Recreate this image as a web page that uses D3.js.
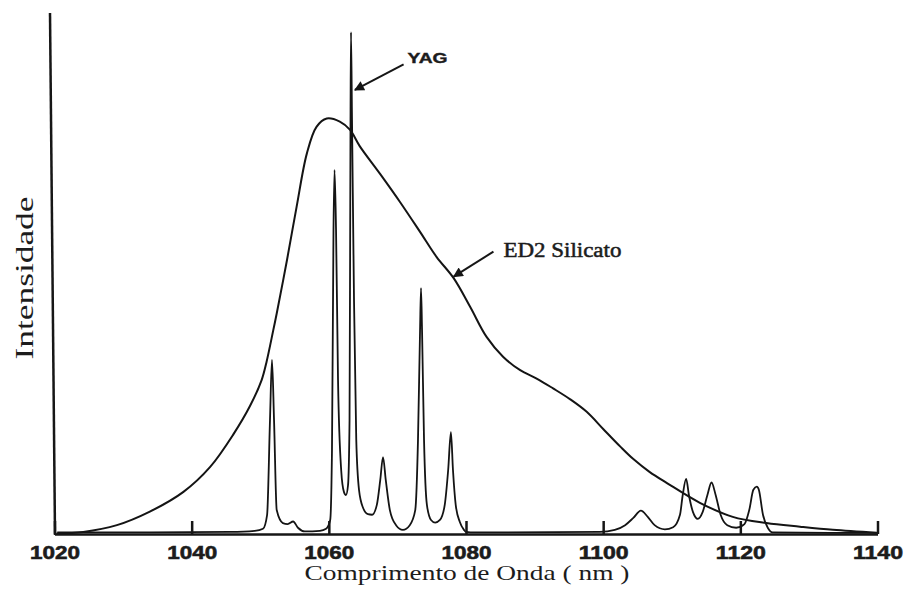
<!DOCTYPE html>
<html>
	<head>
		<title>Intensidade x Comprimento de Onda</title>

		<style>
			body
			{
				margin: 0;
				background: #ffffff;
			}

			svg
			{
				display: block;
			}

			.axisLine, .xAxis path, .xAxis line
			{
				stroke: #161616;
				stroke-width: 2.5px;
				fill: none;
			}

			.xAxis text
			{
				font-family: "Liberation Sans", Arial, sans-serif;
				font-weight: bold;
				font-size: 19px;
				fill: #1c1c1c;
				stroke: #1c1c1c;
				stroke-width: 0.6px;
			}

			.broadCurve, .narrowCurve
			{
				fill: none;
				stroke: #141414;
				stroke-width: 2px;
				stroke-linejoin: round;
			}

			.narrowCurve
			{
				stroke-width: 1.8px;
			}

			.axisTitle
			{
				font-family: "Liberation Serif", "Times New Roman", serif;
				fill: #1c1c1c;
			}

			.labelYag
			{
				font-family: "Liberation Sans", Arial, sans-serif;
				font-weight: bold;
				font-size: 14px;
				fill: #1c1c1c;
				stroke: #1c1c1c;
				stroke-width: 0.4px;
			}

			.labelEd2
			{
				font-family: "Liberation Serif", "Times New Roman", serif;
				font-size: 20px;
				fill: #1c1c1c;
				stroke: #1c1c1c;
				stroke-width: 0.5px;
			}

			.pointer
			{
				stroke: #161616;
				stroke-width: 2px;
			}
		</style>

		<script src="https://cdn.jsdelivr.net/npm/d3@7"></script>
	</head>

	<body>
		<svg width="904" height="592"></svg>

		<script>
			// x ticks (nm)
			var xTicks = [1020, 1040, 1060, 1080, 1100, 1120, 1140];

			// ED2 silicate glass - broad band (nm, relative intensity 0-100)
			var ed2Wave = [1020.3, 1024.2, 1029.1, 1033.9, 1038.8, 1042.7, 1046.1, 1048.5, 1050.2, 1050.9,
				1051.9, 1052.4, 1053.9, 1055.3, 1056.8, 1058.2, 1059.7, 1061.6, 1063.1, 1064.5,
				1067.5, 1070.4, 1073.3, 1075.7, 1078.2, 1080.6, 1083.0, 1085.4, 1087.9, 1090.3,
				1092.7, 1095.2, 1097.6, 1100.0, 1102.5, 1104.4, 1106.8, 1109.3, 1114.1, 1118.9,
				1123.8, 1128.7, 1133.5, 1139.9];
			var ed2Int = [0.1, 0.4, 1.7, 4.3, 8.1, 12.9, 19.2, 24.6, 29.6, 33.0,
				39.2, 42.4, 52.7, 62.9, 73.2, 78.3, 79.9, 79.3, 77.7, 74.6,
				69.2, 63.8, 58.1, 53.3, 49.2, 43.7, 37.9, 34.1, 31.5, 29.9,
				28.0, 25.9, 23.5, 20.2, 16.8, 14.4, 11.9, 9.8, 6.0, 3.3,
				2.1, 1.4, 0.8, 0.25];

			// YAG crystal - narrow lines (nm, relative intensity 0-100)
			var yagWave = [1020.4, 1033.9, 1045.6, 1049.2, 1050.4, 1051.0, 1051.42, 1051.71, 1052.01, 1052.4,
				1053.3, 1054.0, 1054.8, 1055.5, 1056.5, 1058.7, 1059.6, 1060.2, 1060.46, 1060.68,
				1060.83, 1061.05, 1061.34, 1061.8, 1062.2, 1062.5, 1062.8, 1063.02, 1063.16, 1063.23,
				1063.38, 1063.67, 1064.0, 1064.4, 1065.0, 1065.7, 1066.3, 1067.0, 1067.5, 1067.9,
				1068.3, 1068.9, 1069.8, 1070.8, 1071.8, 1072.6, 1073.0, 1073.3, 1073.44, 1073.59,
				1073.88, 1074.3, 1074.9, 1075.5, 1076.2, 1076.9, 1077.4, 1077.8, 1078.1, 1078.5,
				1079.1, 1079.7, 1080.0, 1081.3, 1099.5, 1101.7, 1103.2, 1104.4, 1105.5, 1106.5,
				1107.5, 1109.0, 1110.2, 1111.2, 1111.6, 1112.1, 1112.5, 1113.1, 1113.8, 1114.5,
				1115.2, 1115.8, 1116.4, 1117.1, 1118.1, 1119.4, 1120.6, 1121.3, 1121.9, 1122.4,
				1122.7, 1123.3, 1124.0, 1124.7, 1139.9];
			var yagInt = [0.3, 0.3, 0.4, 0.6, 1.0, 3.7, 21.9, 33.5, 21.9, 4.6,
				2.1, 1.9, 2.4, 1.2, 0.5, 0.6, 1.0, 2.7, 16.2, 58.5,
				70.0, 58.5, 29.6, 12.3, 8.1, 7.5, 9.4, 21.9, 79.6, 96.5,
				79.6, 45.0, 18.1, 8.5, 5.0, 3.8, 3.7, 5.6, 10.4, 14.8,
				10.4, 4.6, 1.7, 0.8, 1.7, 4.6, 18.1, 39.2, 47.3, 39.2,
				18.1, 5.6, 2.7, 2.2, 2.7, 5.6, 12.3, 19.6, 12.3, 5.6,
				2.3, 0.8, 0.4, 0.3, 0.4, 0.8, 1.7, 3.1, 4.5, 3.3,
				1.7, 0.9, 1.3, 3.7, 7.5, 10.6, 7.5, 4.2, 2.9, 4.2,
				7.5, 9.9, 7.5, 3.8, 1.7, 1.2, 1.9, 4.6, 8.5, 9.1,
				8.5, 3.7, 1.2, 0.3, 0.2];

			// annotation anchors (nm, intensity) and label texts
			var yagLabel = "YAG";
			var yagArrow = [[1070.9, 90.3], [1063.8, 85.4]];
			var ed2Label = "ED2 Silicato";
			var ed2Arrow = [[1084.0, 54.3], [1078.2, 49.5]];
			var xTitle = "Comprimento de Onda ( nm )";
			var yTitle = "Intensidade";

			var svg = d3.select("svg");

			var x = d3.scaleLinear()
				.domain([1020, 1140])
				.range([54.5, 877.5]);

			var y = d3.scaleLinear()
				.domain([0, 100])
				.range([534, 14]);

			var ed2Data = ed2Wave.map(function(d, i) { return [d, ed2Int[i]]; });
			var yagData = yagWave.map(function(d, i) { return [d, yagInt[i]]; });

			var broadLine = d3.line()
				.x(function(d) { return x(d[0]); })
				.y(function(d) { return y(d[1]); })
				.curve(d3.curveCatmullRom.alpha(0.5));

			var narrowLine = d3.line()
				.x(function(d) { return x(d[0]); })
				.y(function(d) { return y(d[1]); })
				.curve(d3.curveMonotoneX);

			svg.append("defs")
				.append("marker")
				.attr("id", "head")
				.attr("viewBox", "0 0 10 10")
				.attr("refX", 9)
				.attr("refY", 5)
				.attr("markerWidth", 7)
				.attr("markerHeight", 5)
				.attr("markerUnits", "strokeWidth")
				.attr("orient", "auto")
				.append("path")
				.attr("d", "M0,0 L10,5 L0,10 z")
				.attr("fill", "#161616");

			// curves
			svg.append("path")
				.datum(ed2Data)
				.attr("class", "broadCurve")
				.attr("d", broadLine);

			svg.append("path")
				.datum(yagData)
				.attr("class", "narrowCurve")
				.attr("d", narrowLine);

			// axes
			svg.append("line")
				.attr("class", "axisLine")
				.attr("x1", 50)
				.attr("y1", 13)
				.attr("x2", 55)
				.attr("y2", y(0) + 1);

			var xAxis = d3.axisBottom(x)
				.tickValues(xTicks)
				.tickFormat(d3.format("d"))
				.tickSizeInner(-13)
				.tickSizeOuter(0)
				.tickPadding(11.5);

			svg.append("g")
				.attr("class", "xAxis")
				.attr("transform", "translate(0," + y(0) + ")")
				.call(xAxis)
				.call(function(g)
				{
					g.selectAll("text")
						.attr("textLength", 50)
						.attr("lengthAdjust", "spacingAndGlyphs");
				});

			// titles
			svg.append("text")
				.attr("class", "axisTitle")
				.attr("x", 467)
				.attr("y", 580)
				.attr("text-anchor", "middle")
				.attr("font-size", 21)
				.attr("textLength", 325)
				.attr("lengthAdjust", "spacingAndGlyphs")
				.text(xTitle);

			svg.append("text")
				.attr("class", "axisTitle")
				.attr("transform", "translate(33,278) rotate(-90)")
				.attr("text-anchor", "middle")
				.attr("font-size", 26)
				.attr("textLength", 163)
				.attr("lengthAdjust", "spacingAndGlyphs")
				.text(yTitle);

			// annotations
			svg.append("text")
				.attr("class", "labelYag")
				.attr("x", x(yagArrow[0][0]) + 4)
				.attr("y", 63)
				.attr("textLength", 40)
				.attr("lengthAdjust", "spacingAndGlyphs")
				.text(yagLabel);

			svg.append("line")
				.attr("class", "pointer")
				.attr("x1", x(yagArrow[0][0]))
				.attr("y1", y(yagArrow[0][1]))
				.attr("x2", x(yagArrow[1][0]))
				.attr("y2", y(yagArrow[1][1]))
				.attr("marker-end", "url(#head)");

			svg.append("text")
				.attr("class", "labelEd2")
				.attr("x", x(ed2Arrow[0][0]) + 10)
				.attr("y", 257)
				.attr("textLength", 118)
				.attr("lengthAdjust", "spacingAndGlyphs")
				.text(ed2Label);

			svg.append("line")
				.attr("class", "pointer")
				.attr("x1", x(ed2Arrow[0][0]))
				.attr("y1", y(ed2Arrow[0][1]))
				.attr("x2", x(ed2Arrow[1][0]))
				.attr("y2", y(ed2Arrow[1][1]))
				.attr("marker-end", "url(#head)");
		</script>
	</body>
</html>
